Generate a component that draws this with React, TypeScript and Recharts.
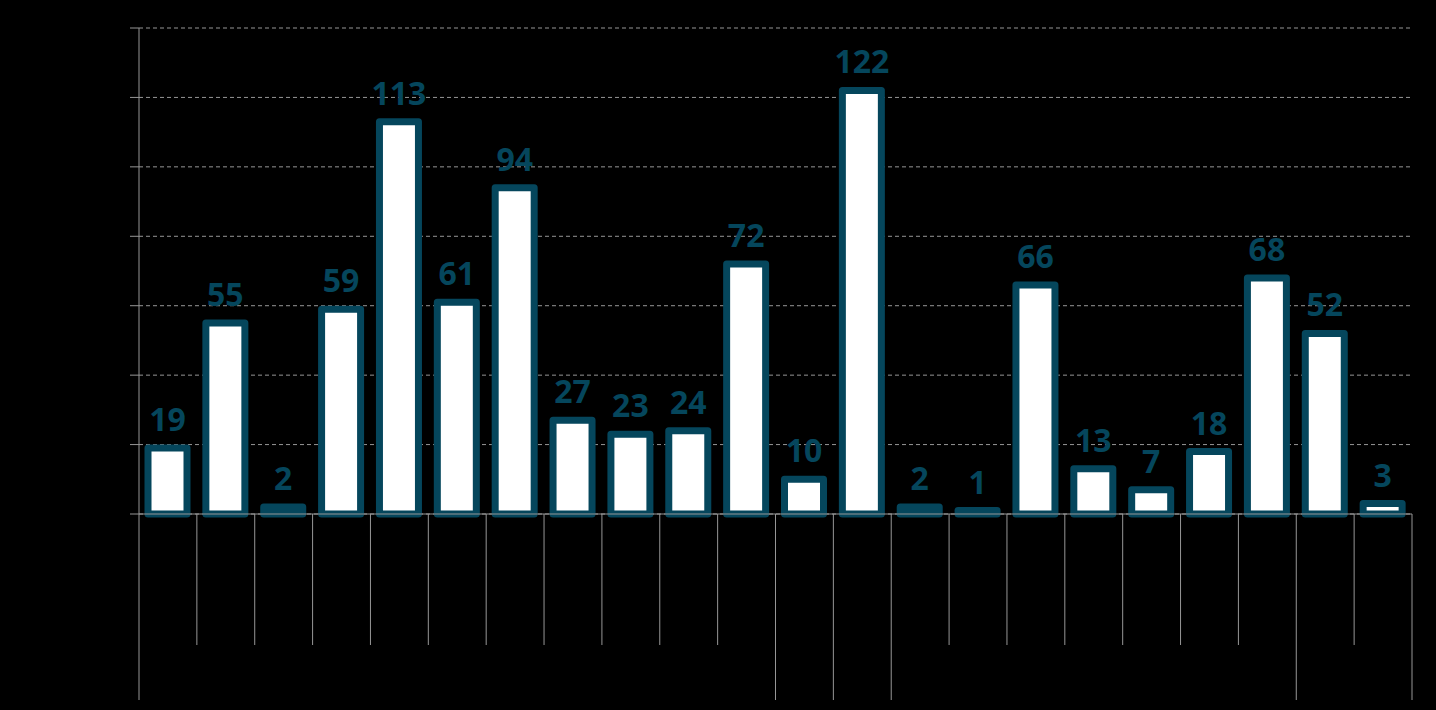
import { BarChart, Bar, XAxis, YAxis, CartesianGrid, LabelList } from "recharts";

const CATEGORIES = [
  "C1", "C2", "C3", "C4", "C5", "C6", "C7", "C8", "C9", "C10", "C11",
  "C12", "C13", "C14", "C15", "C16", "C17", "C18", "C19", "C20", "C21", "C22",
];
const VALUES = [19, 55, 2, 59, 113, 61, 94, 27, 23, 24, 72, 10, 122, 2, 1, 66, 13, 7, 18, 68, 52, 3];
// sizes of the outer category groups (multi-level axis)
const GROUP_SIZES = [11, 1, 1, 7, 2];
const Y_TICKS = [0, 20, 40, 60, 80, 100, 120, 140];

const DATA = CATEGORIES.map((cat, i) => ({ cat, value: VALUES[i] }));

const W = 1436;
const H = 710;
const M_RIGHT = 24;
const Y_AXIS_W = 139;
const X_AXIS_H = 196;
const TEAL = "#05465c";
const GRAY = "#969696";

const BAND = (W - M_RIGHT - Y_AXIS_W) / CATEGORIES.length;

const groupStarts = new Set<number>();
GROUP_SIZES.reduce((acc, n) => {
  groupStarts.add(acc);
  return acc + n;
}, 0);

const CategoryTick = ({ x, index }: any) => {
  const top = H - X_AXIS_H;
  const shortEnd = top + 131;
  const longEnd = H - 10;
  const left = x - BAND / 2;
  const isLast = index === CATEGORIES.length - 1;
  return (
    <g>
      <line x1={left} x2={left} y1={top} y2={groupStarts.has(index) ? longEnd : shortEnd} stroke={GRAY} strokeWidth={1} />
      {isLast && <line x1={x + BAND / 2} x2={x + BAND / 2} y1={top} y2={longEnd} stroke={GRAY} strokeWidth={1} />}
    </g>
  );
};

const OutlinedBar = ({ x, y, width, height }: any) => (
  <rect
    x={x}
    y={y}
    width={width}
    height={Math.max(height, 0)}
    fill="#ffffff"
    stroke={TEAL}
    strokeWidth={7}
    strokeLinejoin="round"
  />
);

export default function App() {
  return (
    <div style={{ position: "absolute", left: 0, top: 0, width: W, height: H, background: "#000" }}>
      <BarChart
        width={W}
        height={H}
        data={DATA}
        margin={{ top: 28, right: M_RIGHT, bottom: 0, left: 0 }}
        barSize={39}
      >
        <CartesianGrid vertical={false} stroke={GRAY} strokeDasharray="4 3" />
        <YAxis
          width={Y_AXIS_W}
          domain={[0, 140]}
          ticks={Y_TICKS}
          tickSize={9}
          tick={{ fill: "#000", fontSize: 12 }}
          tickLine={{ stroke: GRAY }}
          axisLine={{ stroke: GRAY }}
        />
        <XAxis
          dataKey="cat"
          height={X_AXIS_H}
          interval={0}
          tickLine={false}
          axisLine={{ stroke: GRAY }}
          tick={<CategoryTick />}
        />
        <Bar dataKey="value" shape={<OutlinedBar />} isAnimationActive={false}>
          <LabelList
            dataKey="value"
            position="top"
            offset={17}
            fill={TEAL}
            fontSize={32}
            fontWeight="bold"
            fontFamily="'Open Sans', sans-serif"
          />
        </Bar>
      </BarChart>
    </div>
  );
}
